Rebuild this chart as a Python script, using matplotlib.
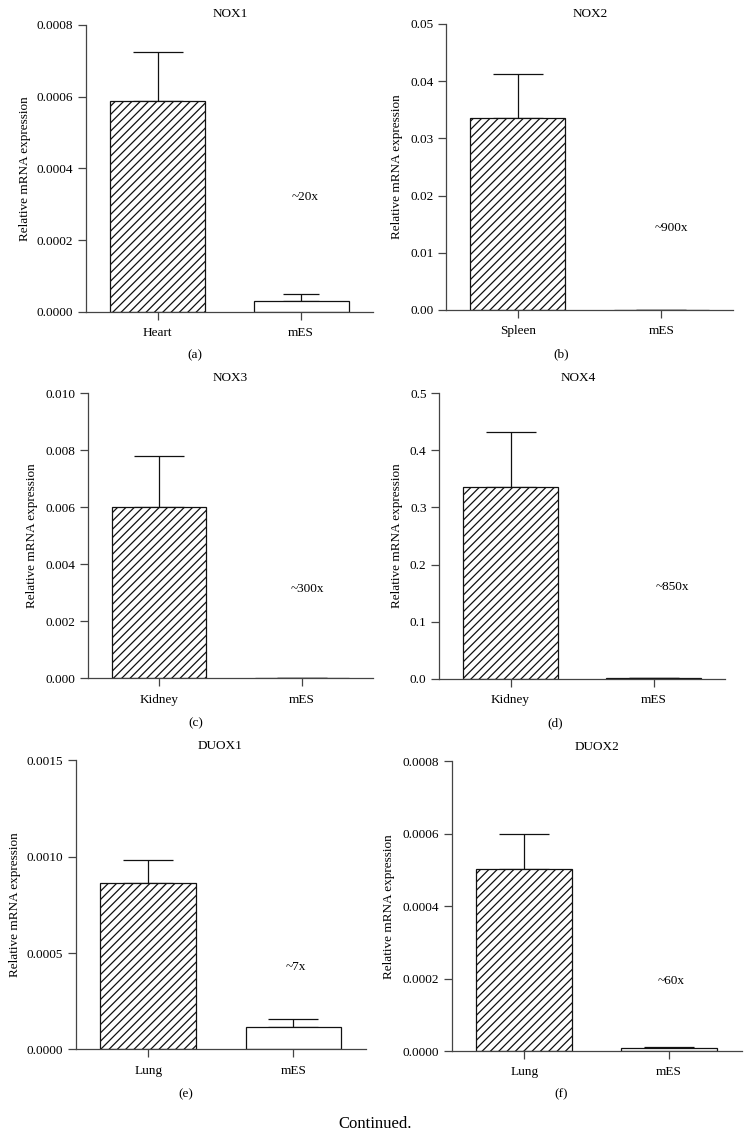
import matplotlib
matplotlib.use("Agg")
import matplotlib.pyplot as plt

plt.rcParams['font.family'] = ['Liberation Serif', 'DejaVu Serif']
plt.rcParams['hatch.linewidth'] = 0.9
plt.rcParams['font.size'] = 9

# ---- data ----
titles = ["NOX1", "NOX2", "NOX3", "NOX4", "DUOX1", "DUOX2"]
tissues = ["Heart", "Spleen", "Kidney", "Kidney", "Lung", "Lung"]
tissue_vals = [0.000589, 0.0336, 0.00601, 0.3364, 0.000865, 0.000504]
tissue_errs = [0.000135, 0.0077, 0.00178, 0.0963, 0.000119, 0.000096]
mes_vals = [0.000029, 0.0000373, 0.00002, 0.000396, 0.000117, 0.0000085]
mes_errs = [0.0000196, 0.00001, 0.000005, 0.0001, 0.000039, 0.000002]
folds = ["~20x", "~900x", "~300x", "~850x", "~7x", "~60x"]
ymax = [0.0008, 0.05, 0.010, 0.5, 0.0015, 0.0008]
yticks = [
    [0.0, 0.0002, 0.0004, 0.0006, 0.0008],
    [0.0, 0.01, 0.02, 0.03, 0.04, 0.05],
    [0.0, 0.002, 0.004, 0.006, 0.008, 0.010],
    [0.0, 0.1, 0.2, 0.3, 0.4, 0.5],
    [0.0, 0.0005, 0.0010, 0.0015],
    [0.0, 0.0002, 0.0004, 0.0006, 0.0008],
]
ytick_fmt = ["{:.4f}", "{:.2f}", "{:.3f}", "{:.1f}", "{:.4f}", "{:.4f}"]
panel_labels = ["(a)", "(b)", "(c)", "(d)", "(e)", "(f)"]

W, H = 750, 1138
fig = plt.figure(figsize=(W / 100, H / 100), dpi=100)

# axes boxes in pixels: left, right, top, bottom
boxes = [
    (85.7, 373, 25, 311.7),
    (446, 733, 24, 310),
    (87.7, 373, 393.3, 678.3),
    (439, 725, 393.3, 678.7),
    (75.7, 366, 760.4, 1049.3),
    (451.7, 741.7, 761.4, 1051),
]
title_pos = [(230, 14), (590, 14), (230, 378), (578, 378), (220, 746), (597, 747)]
label_pos = [(195, 355), (561, 354), (196, 723), (555, 723), (186, 1094), (561, 1094)]
fold_pos = [(305, 197), (671, 228), (307, 589), (672, 587), (296, 967), (671, 981)]
ylabel_x = [25, 397, 32, 397, 15, 389]

ec = '#111111'
ac = '#444444'
fs = 9.5
for i in range(6):
    l, r, t, b = boxes[i]
    ax = fig.add_axes([l / W, 1 - b / H, (r - l) / W, (b - t) / H])
    x = [0, 1]
    ax.bar(x, [tissue_vals[i], mes_vals[i]], width=0.66,
           color=['white', 'white'], edgecolor=ec, linewidth=0.9,
           hatch=['////', ''], zorder=2)
    ax.errorbar([0], [tissue_vals[i]], yerr=[[0], [tissue_errs[i]]],
                fmt='none', ecolor=ec, elinewidth=0.9, capsize=18,
                capthick=0.9, zorder=1)
    ax.errorbar([1], [mes_vals[i]], yerr=[[0], [mes_errs[i]]],
                fmt='none', ecolor=ec, elinewidth=0.9,
                capsize=13 if i == 0 else 18, capthick=0.9, zorder=1)
    ax.set_xlim(-0.5, 1.5)
    ax.set_ylim(0, ymax[i])
    ax.set_xticks(x)
    ax.set_xticklabels([tissues[i], "mES"])
    ax.set_yticks(yticks[i])
    ax.set_yticklabels([ytick_fmt[i].format(v) for v in yticks[i]])
    for s in ['top', 'right']:
        ax.spines[s].set_visible(False)
    for s in ['left', 'bottom']:
        ax.spines[s].set_color(ac)
        ax.spines[s].set_linewidth(0.9)
    ax.tick_params(axis='both', length=6, width=0.9, color=ac,
                   labelsize=fs, pad=3)
    ax.tick_params(axis='x', pad=5)
    ax.set_ylabel("Relative mRNA expression", fontsize=fs, va='center')
    ax.yaxis.set_label_coords(ylabel_x[i] / W, 1 - ((t + b) / 2) / H,
                              transform=fig.transFigure)
    ax.patch.set_alpha(0)
    fx, fy = title_pos[i]
    fig.text(fx / W, 1 - fy / H, titles[i], ha='center', va='center', fontsize=fs)
    px, py = label_pos[i]
    fig.text(px / W, 1 - py / H, panel_labels[i], ha='center', va='center', fontsize=fs)
    ox, oy = fold_pos[i]
    fig.text(ox / W, 1 - oy / H, folds[i], ha='center', va='center', fontsize=fs)

fig.text(375 / W, 1 - 1124 / H, "Continued.", ha='center', va='center', fontsize=12)

fig.savefig("out.png", dpi=100)
